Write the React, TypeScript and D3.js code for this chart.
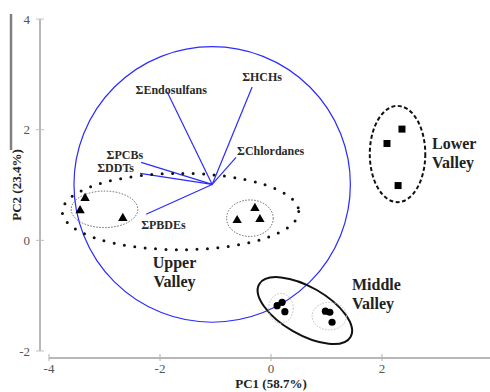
import React, { useEffect, useRef } from 'react';
import * as d3 from 'd3';

// PCA scores (PC1, PC2)
const upperValley = [
  [-3.35, 0.76], [-3.44, 0.54], [-2.67, 0.40],
  [-0.29, 0.58], [-0.61, 0.36], [-0.20, 0.38],
];
const middleValley = [
  [0.20, -1.12], [0.11, -1.18], [0.25, -1.29],
  [0.98, -1.28], [1.06, -1.30], [1.10, -1.48],
];
const lowerValley = [[2.36, 2.01], [2.09, 1.75], [2.29, 0.99]];

// loading vectors: name, end PC1, end PC2
const loadingOrigin = [-1.06, 1.01];
const loadingNames = ['ΣEndosulfans', 'ΣHCHs', 'ΣChlordanes', 'ΣPCBs', 'ΣDDTs', 'ΣPBDEs'];
const loadingX = [-1.87, -0.34, -0.63, -2.34, -2.36, -2.25];
const loadingY = [2.68, 2.77, 1.50, 1.41, 1.21, 0.47];
const loadingRadius = 2.49;

// group ellipses: cx, cy, rx, ry (data units), rotation deg
const upperOuter = [-1.63, 0.52, 2.13, 0.69, 0];
const upperSub = [[-3.0, 0.56, 0.6, 0.33, 0], [-0.38, 0.4, 0.42, 0.33, 0]];
const middleOuter = [0.61, -1.27, 0.95, 0.43, 30];
const middleSub = [[0.18, -1.23, 0.22, 0.27, 0], [1.05, -1.37, 0.31, 0.25, 0]];
const lowerOuter = [2.28, 1.56, 0.5, 0.87, 0];

const xTicks = [-4, -2, 0, 2];
const yTicks = [-2, 0, 2, 4];

const W = 490;
const H = 392;

// label placement next to each vector tip
const labelPlace: Record<string, [string, number, number]> = {
  'ΣEndosulfans': ['middle', 4, -2],
  'ΣHCHs': ['middle', 10, -10],
  'ΣChlordanes': ['start', 1, -7],
  'ΣPCBs': ['end', 2, -8],
  'ΣDDTs': ['end', -6, -6],
  'ΣPBDEs': ['start', -5, 10],
};

const App = () => {
  const ref = useRef<SVGSVGElement>(null);

  useEffect(() => {
    const svg = d3.select(ref.current);
    svg.selectAll('*').remove();

    const x = d3.scaleLinear().domain([-4, 4]).range([49, 493]);
    const y = d3.scaleLinear().domain([-2, 4]).range([351, 19]);
    const kx = x(1) - x(0);
    const ky = y(0) - y(1);
    const serif = '"Liberation Serif", "Times New Roman", serif';

    // stray frame edge at far left
    svg.append('line')
      .attr('x1', 11).attr('x2', 11).attr('y1', 14).attr('y2', 150)
      .attr('stroke', '#808080').attr('stroke-width', 2.5);

    // y axis
    svg.append('line')
      .attr('x1', x(-4) - 9).attr('x2', x(-4) - 9)
      .attr('y1', y(4)).attr('y2', y(-2))
      .attr('stroke', '#a0a0a0').attr('stroke-width', 1.5);
    yTicks.forEach(t => {
      svg.append('line')
        .attr('x1', x(-4) - 13).attr('x2', x(-4) - 5)
        .attr('y1', y(t)).attr('y2', y(t))
        .attr('stroke', '#c0c0c0').attr('stroke-width', 1);
      svg.append('text')
        .attr('x', x(-4) - 19).attr('y', y(t))
        .attr('dy', '0.35em').attr('text-anchor', 'end')
        .style('font-family', serif).style('font-size', '13px')
        .attr('fill', '#555').text(t);
    });

    // x axis
    const xBase = y(-2) + 7;
    svg.append('line')
      .attr('x1', x(-4)).attr('x2', W)
      .attr('y1', xBase).attr('y2', xBase)
      .attr('stroke', '#a0a0a0').attr('stroke-width', 1.5);
    xTicks.forEach(t => {
      svg.append('line')
        .attr('x1', x(t)).attr('x2', x(t))
        .attr('y1', xBase - 4).attr('y2', xBase + 3)
        .attr('stroke', '#b0b0b0').attr('stroke-width', 1);
      svg.append('text')
        .attr('x', x(t)).attr('y', xBase + 15)
        .attr('text-anchor', 'middle')
        .style('font-family', serif).style('font-size', '13px')
        .attr('fill', '#555').text(t);
    });

    svg.append('text')
      .attr('x', x(0)).attr('y', 388)
      .attr('text-anchor', 'middle')
      .style('font-family', serif).style('font-size', '13px').style('font-weight', 'bold')
      .attr('fill', '#222').text('PC1 (58.7%)');
    svg.append('text')
      .attr('transform', `translate(21,${y(1)}) rotate(-90)`)
      .attr('text-anchor', 'middle')
      .style('font-family', serif).style('font-size', '13px').style('font-weight', 'bold')
      .attr('fill', '#222').text('PC2 (23.4%)');

    const ellipse = (e: number[], stroke: string, width: number, dash: string, cap = 'butt') =>
      svg.append('ellipse')
        .attr('cx', 0).attr('cy', 0)
        .attr('rx', e[2] * kx).attr('ry', e[3] * ky)
        .attr('transform', `translate(${x(e[0])},${y(e[1])}) rotate(${e[4]})`)
        .attr('fill', 'none').attr('stroke', stroke)
        .attr('stroke-width', width)
        .attr('stroke-dasharray', dash)
        .attr('stroke-linecap', cap);

    // loadings circle and vectors
    svg.append('ellipse')
      .attr('cx', x(loadingOrigin[0])).attr('cy', y(loadingOrigin[1]))
      .attr('rx', loadingRadius * kx).attr('ry', loadingRadius * ky)
      .attr('fill', 'none').attr('stroke', '#2b2bff').attr('stroke-width', 1.2);

    loadingNames.forEach((n, i) => {
      svg.append('line')
        .attr('x1', x(loadingOrigin[0])).attr('y1', y(loadingOrigin[1]))
        .attr('x2', x(loadingX[i])).attr('y2', y(loadingY[i]))
        .attr('stroke', '#2b2bff').attr('stroke-width', 1.2);
      const [anchor, dx, dy] = labelPlace[n];
      svg.append('text')
        .attr('x', x(loadingX[i]) + dx).attr('y', y(loadingY[i]) + dy)
        .attr('dy', '0.35em').attr('text-anchor', anchor)
        .style('font-family', serif).style('font-size', '12px').style('font-weight', 'bold')
        .attr('fill', '#2a2a2a').text(n);
    });

    // group ellipses
    ellipse(upperOuter, '#111', 3, '0 10.4', 'round');
    upperSub.forEach(e => ellipse(e, '#666', 1, '1.5 1.5'));
    ellipse(middleOuter, '#111', 2, 'none');
    middleSub.forEach(e => ellipse(e, '#bbb', 1, '1.5 1.5'));
    ellipse(lowerOuter, '#111', 2, '4 2.5');

    // points
    const tri = d3.symbol().type(d3.symbolTriangle).size(38);
    svg.selectAll('.tri').data(upperValley).join('path')
      .attr('class', 'tri')
      .attr('d', tri)
      .attr('transform', d => `translate(${x(d[0])},${y(d[1])})`)
      .attr('fill', '#000');
    svg.selectAll('.sq').data(lowerValley).join('path')
      .attr('class', 'sq')
      .attr('d', d3.symbol().type(d3.symbolSquare).size(49))
      .attr('transform', d => `translate(${x(d[0])},${y(d[1])})`)
      .attr('fill', '#000');
    svg.selectAll('.dot').data(middleValley).join('circle')
      .attr('class', 'dot')
      .attr('cx', d => x(d[0])).attr('cy', d => y(d[1]))
      .attr('r', 3.6).attr('fill', '#000');

    // group names
    const groupLabel = (lines: string[], px: number, py: number, anchor: string) => {
      lines.forEach((l, i) => {
        svg.append('text')
          .attr('x', px).attr('y', py + i * 19)
          .attr('dy', '0.35em').attr('text-anchor', anchor)
          .style('font-family', serif).style('font-size', '16px').style('font-weight', 'bold')
          .attr('fill', '#222').text(l);
      });
    };
    groupLabel(['Upper', 'Valley'], x(upperOuter[0]) - 6, 262, 'middle');
    groupLabel(['Middle', 'Valley'], 352, 284, 'start');
    groupLabel(['Lower', 'Valley'], 432, 143, 'start');
  }, []);

  return (
    <svg
      ref={ref}
      width={W}
      height={H}
      style={{ position: 'absolute', left: 0, top: 0, background: '#fff' }}
    />
  );
};

export default App;
